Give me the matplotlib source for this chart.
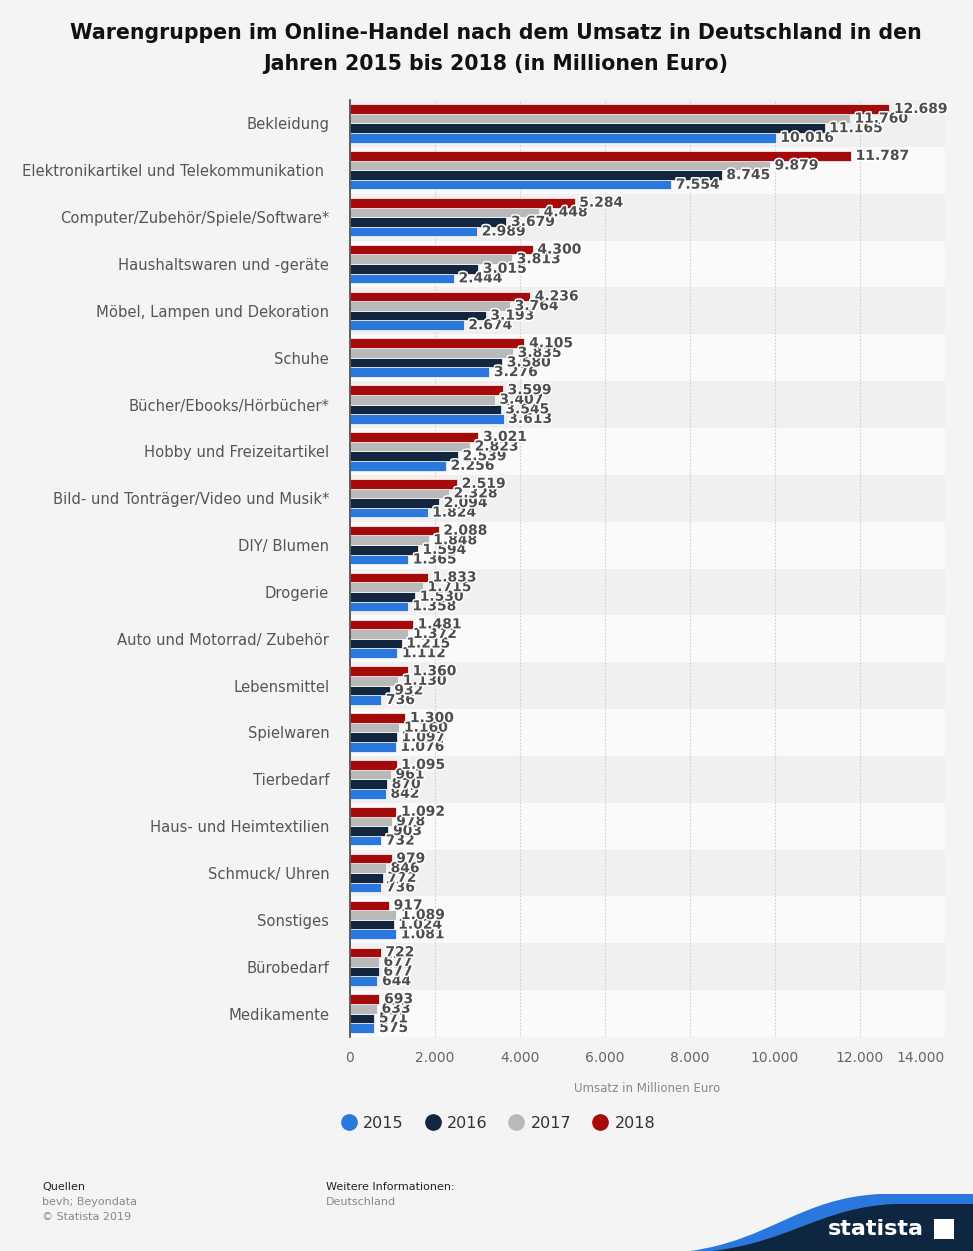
import numpy as np
import matplotlib.pyplot as plt
import matplotlib.patheffects as pe
from matplotlib.lines import Line2D
from matplotlib.patches import PathPatch, Rectangle
from matplotlib.path import Path

categories = ["Bekleidung", "Elektronikartikel und Telekommunikation ",
              "Computer/Zubehör/Spiele/Software*", "Haushaltswaren und -geräte",
              "Möbel, Lampen und Dekoration", "Schuhe", "Bücher/Ebooks/Hörbücher*",
              "Hobby und Freizeitartikel", "Bild- und Tonträger/Video und Musik*",
              "DIY/ Blumen", "Drogerie", "Auto und Motorrad/ Zubehör", "Lebensmittel",
              "Spielwaren", "Tierbedarf", "Haus- und Heimtextilien", "Schmuck/ Uhren",
              "Sonstiges", "Bürobedarf", "Medikamente"]
v2015 = [10016, 7554, 2989, 2444, 2674, 3276, 3613, 2256, 1824, 1365, 1358, 1112,
         736, 1076, 842, 732, 736, 1081, 644, 575]
v2016 = [11165, 8745, 3679, 3015, 3193, 3580, 3545, 2539, 2094, 1594, 1530, 1215,
         932, 1097, 870, 903, 772, 1024, 677, 571]
v2017 = [11760, 9879, 4448, 3813, 3764, 3835, 3407, 2823, 2328, 1848, 1715, 1372,
         1130, 1160, 961, 978, 846, 1089, 677, 633]
v2018 = [12689, 11787, 5284, 4300, 4236, 4105, 3599, 3021, 2519, 2088, 1833, 1481,
         1360, 1300, 1095, 1092, 979, 917, 722, 693]
years = ["2015", "2016", "2017", "2018"]
series = [v2015, v2016, v2017, v2018]
colors = ["#2a77dd", "#12263f", "#b9b9b9", "#a50a0a"]

W, H = 973, 1251
fig = plt.figure(figsize=(W / 100, H / 100), dpi=100)
fig.patch.set_facecolor("#f4f4f4")

ax = fig.add_axes([350 / W, 1 - 1037 / H, 595 / W, 937 / H])
ax.set_facecolor("#f4f4f4")
n = len(categories)
y = np.arange(n)

# alternating row bands
for i in range(n):
    ax.axhspan(i - 0.5, i + 0.5, color="#f0f0f0" if i % 2 == 0 else "#fafafa", zorder=0, lw=0)

bh = 0.205
offsets = [1.5, 0.5, -0.5, -1.5]  # 2015 bottom ... 2018 top (axis inverted)
for vals, col, off, yr in zip(series, colors, offsets, years):
    pos = y + off * bh
    ax.barh(pos, vals, height=bh, color=col, zorder=3, edgecolor="white", linewidth=0.5)
    for p, v in zip(pos, vals):
        ax.text(v + 110, p, f"{v:,}".replace(",", "."), va="center", ha="left",
                fontsize=10, fontweight="bold", color="#4d4d4d", zorder=5,
                path_effects=[pe.withStroke(linewidth=2.2, foreground="white")])

ax.set_ylim(n - 0.5, -0.5)
ax.set_xlim(0, 14000)
ax.set_xticks(np.arange(0, 14001, 2000))
ax.set_xticklabels([f"{t:,}".replace(",", ".") for t in range(0, 14001, 2000)])
ax.get_xticklabels()[-1].set_horizontalalignment("right")
ax.get_xticklabels()[-1].set_x(14000)
ax.set_yticks(y)
ax.set_yticklabels(categories)
ax.tick_params(axis="y", length=0, pad=15, labelsize=10.6, labelcolor="#555555")
ax.tick_params(axis="x", length=0, pad=10, labelsize=10, labelcolor="#666666")
ax.grid(axis="x", linestyle=(0, (1.5, 1.5)), color="#cfcfcf", lw=0.8, zorder=1)
for s in ["top", "right", "bottom"]:
    ax.spines[s].set_visible(False)
ax.spines["left"].set_color("#444444")
ax.spines["left"].set_linewidth(1.2)
ax.spines["left"].set_zorder(6)
ax.set_xlabel("Umsatz in Millionen Euro", fontsize=8.5, color="#888888", labelpad=12)

fig.text(496 / W, 1 - 33 / H, "Warengruppen im Online-Handel nach dem Umsatz in Deutschland in den",
         ha="center", va="center", fontsize=14.8, fontweight="bold", color="#111111")
fig.text(496 / W, 1 - 64 / H, "Jahren 2015 bis 2018 (in Millionen Euro)",
         ha="center", va="center", fontsize=14.8, fontweight="bold", color="#111111")

handles = [Line2D([], [], marker="o", ls="", markersize=11, color=c) for c in colors]
fig.legend(handles, years, loc="center", bbox_to_anchor=(498 / W, 1 - 1123 / H), ncol=4,
           frameon=False, fontsize=11.5, handletextpad=0.4, columnspacing=1.3,
           labelcolor="#333333", handlelength=1.0)

# footer
fig.text(42 / W, 1 - 1187 / H, "Quellen", fontsize=8, color="#222222", va="center")
fig.text(42 / W, 1 - 1202 / H, "bevh; Beyondata", fontsize=8, color="#888888", va="center")
fig.text(42 / W, 1 - 1217 / H, "© Statista 2019", fontsize=8, color="#888888", va="center")
fig.text(326 / W, 1 - 1187 / H, "Weitere Informationen:", fontsize=8, color="#222222", va="center")
fig.text(326 / W, 1 - 1202 / H, "Deutschland", fontsize=8, color="#888888", va="center")

# statista logo shape
def fig_path(pts, codes):
    return Path([(x / W, 1 - yy / H) for x, yy in pts], codes)

C4 = Path.CURVE4
blue = fig_path([(690, 1251), (770, 1240), (800, 1198), (880, 1194), (973, 1194), (973, 1251), (690, 1251)],
                [Path.MOVETO, C4, C4, C4, Path.LINETO, Path.LINETO, Path.CLOSEPOLY])
navy = fig_path([(712, 1251), (790, 1242), (822, 1207), (895, 1204), (973, 1204), (973, 1251), (712, 1251)],
                [Path.MOVETO, C4, C4, C4, Path.LINETO, Path.LINETO, Path.CLOSEPOLY])
fig.patches.append(PathPatch(blue, facecolor="#2a77dd", lw=0, transform=fig.transFigure))
fig.patches.append(PathPatch(navy, facecolor="#0f2640", lw=0, transform=fig.transFigure))
fig.text(876 / W, 1 - 1229 / H, "statista", fontsize=16, fontweight="bold", color="white",
         ha="center", va="center")
fig.patches.append(Rectangle((934 / W, 1 - 1239 / H), 20 / W, 20 / H, facecolor="white", lw=0,
                             transform=fig.transFigure))

fig.savefig("out.png", dpi=100, facecolor=fig.get_facecolor())
